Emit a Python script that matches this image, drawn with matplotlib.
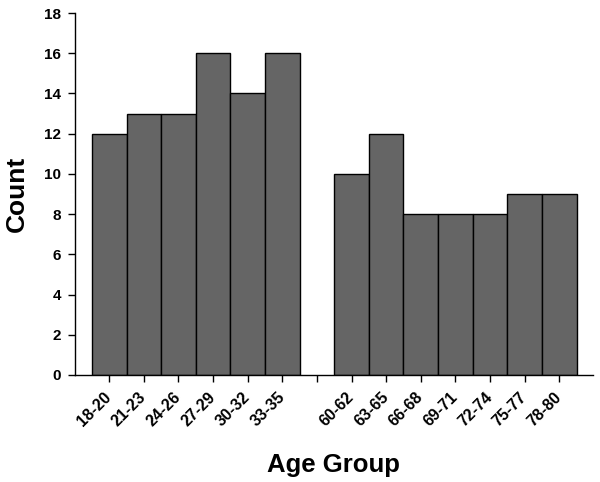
import matplotlib
matplotlib.use("Agg")
import matplotlib.pyplot as plt

group1 = ["18-20", "21-23", "24-26", "27-29", "30-32", "33-35"]
counts1 = [12, 13, 13, 16, 14, 16]
group2 = ["60-62", "63-65", "66-68", "69-71", "72-74", "75-77", "78-80"]
counts2 = [10, 12, 8, 8, 8, 9, 9]

labels = group1 + [""] + group2
pos1 = list(range(len(group1)))
pos2 = list(range(len(group1) + 1, len(group1) + 1 + len(group2)))

plt.rcParams['font.family'] = ['Liberation Sans', 'DejaVu Sans']
plt.rcParams['font.weight'] = 'bold'

fig = plt.figure(figsize=(6, 4.82), dpi=100)
ax = fig.add_axes([0.125, 0.222, 0.863, 0.751])

ax.bar(pos1, counts1, width=1.0, color="#656565", edgecolor="black", linewidth=1.0)
ax.bar(pos2, counts2, width=1.0, color="#656565", edgecolor="black", linewidth=1.0)

ax.set_xlim(-0.99, pos2[-1] + 0.97)
ax.set_ylim(0, 18)
ax.set_yticks(range(0, 19, 2))
ax.set_xticks(list(range(len(labels))))
ax.set_xticklabels(labels, rotation=45, ha='right', va='center', rotation_mode='anchor')

for lab in ax.get_yticklabels():
    lab.set_fontweight('bold')
    lab.set_fontsize(11)
for lab in ax.get_xticklabels():
    lab.set_fontweight('bold')
    lab.set_fontsize(11.5)

ax.tick_params(axis='both', direction='out', length=5, width=1, color='black')
ax.tick_params(axis='x', pad=9)
ax.tick_params(axis='y', pad=5)

ax.spines['top'].set_visible(False)
ax.spines['right'].set_visible(False)
for s in ['left', 'bottom']:
    ax.spines[s].set_linewidth(1.0)
    ax.spines[s].set_color('black')

ax.set_xlabel("Age Group", fontsize=18.5, fontweight='bold', labelpad=17)
ax.set_ylabel("Count", fontsize=19, fontweight='bold', labelpad=11)

fig.savefig("out.png", dpi=100)
